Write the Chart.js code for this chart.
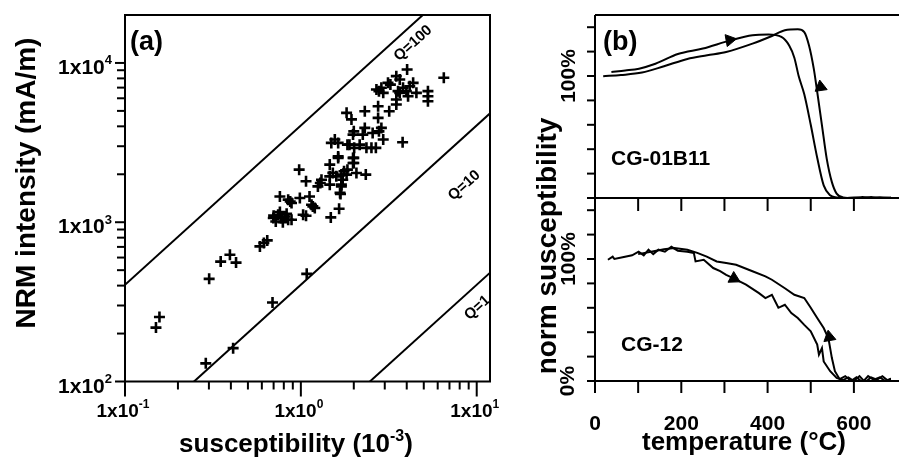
<!DOCTYPE html>
<html>
<head>
<meta charset="utf-8">
<script src="https://cdn.jsdelivr.net/npm/chart.js@4.4.1/dist/chart.umd.min.js"></script>
<style>
  html, body { margin: 0; padding: 0; background: #fff; }
  #wrap { position: relative; width: 899px; height: 460px; overflow: hidden; }
  #wrap canvas { position: absolute; left: 0; top: 0; }
</style>
</head>
<body>
<div id="wrap">
  <canvas id="chart-a" width="899" height="460"></canvas>
  <canvas id="chart-b1" width="899" height="460"></canvas>
  <canvas id="chart-b2" width="899" height="460"></canvas>
</div>
<script>
// ---- panel (a): NRM vs susceptibility ----
const susValues = [0.157,0.150,0.301,0.350,0.395,0.428,0.585,0.616,0.644,0.690,1.08,0.412,0.288,
  0.697,0.743,0.77,0.811,0.847,0.885,0.72,0.79,0.83,0.76,0.70,
  0.76,0.847,0.885,0.987,1.12,1.15,1.20,1.07,1.48,1.65,1.68,1.17,1.03,0.87,
  1.07,0.978,1.25,1.29,1.31,1.46,1.46,1.63,1.59,1.70,1.73,1.76,1.84,1.98,1.98,2.07,2.34,1.70,1.67,1.46,1.70,1.82,1.52,2.0,2.0,1.63,
  1.49,1.56,1.63,1.84,2.01,2.16,2.36,2.67,2.94,3.79,1.98,2.25,2.56,2.78,2.31,2.87,2.0,1.89,2.52,
  1.82,1.94,2.31,2.75,3.18,2.75,3.49,3.49,
  5.28,5.28,5.28,4.07,4.54,3.98,3.65,3.57,3.81,2.94,2.69,2.78,2.87,4.16,4.35,3.13,3.65,3.49,6.50,4.02,3.23];
const nrmValues = [254,218,441,566,625,558,705,740,769,313,474,162,130,
  1062,1114,1062,1087,1037,1037,1010,1000,1130,1160,1100,
  1452,1386,1321,1419,1452,1288,1228,1099,1072,1216,1503,1257,1114,1350,
  1807,2138,1679,1762,1849,1941,2300,2535,1941,1990,1849,2090,2138,2535,2355,2037,1990,1722,1528,1722,1680,1990,2040,2535,2355,2590,
  3148,3304,3148,3070,2930,3070,2930,2930,3304,3177,3550,3550,3630,3720,3910,3910,3720,3070,2930,
  4860,4420,4970,4520,4970,5350,5480,5890,
  5750,6180,6650,6180,6490,6650,6490,6650,6980,6490,6810,6650,6980,7140,7500,7500,7870,8260,8070,9100,7310];

// Koenigsberger ratio reference lines (end points)
const qLineSus = [0.1, 12];
const qLine100 = [405, 48600];
const qLine10 = [40.5, 4860];
const qLine1 = [4.05, 486];
const qLabels = ['Q=100', 'Q=10', 'Q=1'];
const qLabelSus = [4.35, 8.5, 10.1];
const qLabelNrm = [13300, 1700, 290];

const xMajorA = [0.1, 1, 10];
const xMajorExpA = ['-1', '0', '1'];
const xMinorA = [0.2,0.3,0.4,0.5,0.6,0.7,0.8,0.9,2,3,4,5,6,7,8,9];
const yMajorA = [100, 1000, 10000];
const yMajorExpA = ['2', '3', '4'];
const yMinorA = [200,300,400,500,600,700,800,900,2000,3000,4000,5000,6000,7000,8000,9000];

// ---- panel (b): thermomagnetic curves ----
const heatT1 = [38,70,102,140,192,250,312,365,402,432,450,462,472,485,500,515,530,545,560,580,600,620,640,660,686];
const heatS1 = [103.3,104.5,106,110,118,122.5,129,133.4,134,132,125,115,100,85,60,33,10.4,2.2,0.5,0,0.5,0,0.8,0,0.5];
const coolT1 = [19,60,109,160,214,260,304,365,410,440,470,485,496,507,515,526,537,549,560,575,600,620,640,660,686];
const coolS1 = [99.8,100.8,102.8,108,114,117,119.7,126.5,132.8,137.5,138.3,136,125,106,87,59.6,32.3,13,3.6,0.5,0,0.8,0,0.6,0];

const heatT2 = [30,41,45,64,86,101,113,124,135,147,162,177,192,214,229,233,252,274,290,304,320,350,380,395,410,425,440,455,470,485,500,515,519,526,530,545,560,575,587,600,613,626,640,653,666,680,686];
const heatS2 = [99.4,102,100,101.4,103,106,103,107.6,104,107.6,106,110,106.8,106,105,98,99.4,92.6,90,87,84.4,79,72,68,70.7,60,62.5,55.7,51.6,46,40.7,29.8,21.6,27,16,8,2.5,0.8,3,0,4,-1,3,1,4,0,2];
const coolT2 = [100,130,160,184,214,237,259,282,304,327,365,395,410,440,462,485,500,515,530,541,549,556,567,580,593,606,620,633,646,660,673,686];
const coolS2 = [104,106,108,109,107.6,105,102,98,96.7,95.3,90,85.8,83,76,70.7,68,60,51.6,43.4,35,18.8,8,1.5,4,0,3,-1,4,1,3,0,2];

// direction arrows sitting on the curves
const arrowT1 = [312, 523];
const arrowS1 = [129.5, 91];
const arrowDir1 = [80, -8];
const arrowT2 = [322, 543];
const arrowS2 = [84, 36];
const arrowDir2 = [118, -10];

const tempTicks = [0,100,200,300,400,500,600];
const tempLabels = [0, 200, 400, 600];
const pctTicks = [0,20,40,60,80,100,120,140];

const FONT = '"Liberation Sans", Arial, Helvetica, sans-serif';
const pts = (xs, ys) => xs.map((x, i) => ({ x, y: ys[i] }));

function segText(ctx, segs, cx, y, size) {
  // segs: [text, isSuperscript]
  const supSize = Math.round(size * 0.62);
  let w = 0;
  segs.forEach(([t, sup]) => {
    ctx.font = `bold ${sup ? supSize : size}px ${FONT}`;
    w += ctx.measureText(t).width;
  });
  let x = cx - w / 2;
  ctx.textAlign = 'left';
  ctx.textBaseline = 'alphabetic';
  segs.forEach(([t, sup]) => {
    ctx.font = `bold ${sup ? supSize : size}px ${FONT}`;
    ctx.fillText(t, x, sup ? y - size * 0.42 : y);
    x += ctx.measureText(t).width;
  });
  return w;
}

function powLabel(ctx, exp, x, y, size, align) {
  const supSize = Math.round(size * 0.62);
  ctx.font = `bold ${size}px ${FONT}`;
  const wb = ctx.measureText('1x10').width;
  ctx.font = `bold ${supSize}px ${FONT}`;
  const we = ctx.measureText(exp).width;
  const x0 = align === 'right' ? x - wb - we : x - (wb + we) / 2;
  ctx.textAlign = 'left';
  ctx.textBaseline = 'alphabetic';
  ctx.font = `bold ${size}px ${FONT}`;
  ctx.fillText('1x10', x0, y);
  ctx.font = `bold ${supSize}px ${FONT}`;
  ctx.fillText(exp, x0 + wb, y - size * 0.45);
}

function line(ctx, x1, y1, x2, y2) {
  ctx.beginPath();
  ctx.moveTo(x1, y1);
  ctx.lineTo(x2, y2);
  ctx.stroke();
}

const hiddenScale = (extra) => Object.assign({ display: false }, extra);

// ---------------- chart (a) ----------------
const decorA = {
  id: 'decorA',
  afterDraw(chart) {
    const { ctx, chartArea: a, scales: { x, y } } = chart;
    ctx.save();
    ctx.strokeStyle = '#000';
    ctx.fillStyle = '#000';
    ctx.lineWidth = 2;
    ctx.strokeRect(a.left, a.top, a.right - a.left, a.bottom - a.top);
    xMajorA.forEach(v => { const p = x.getPixelForValue(v); line(ctx, p, a.bottom, p, a.bottom + 15); });
    xMinorA.forEach(v => { const p = x.getPixelForValue(v); line(ctx, p, a.bottom, p, a.bottom + 8); });
    yMajorA.forEach(v => { const p = y.getPixelForValue(v); line(ctx, a.left, p, a.left - 10, p); });
    yMinorA.forEach(v => { const p = y.getPixelForValue(v); line(ctx, a.left, p, a.left - 8, p); });

    xMajorA.forEach((v, i) => powLabel(ctx, xMajorExpA[i], x.getPixelForValue(v) - 2, 417, 19, 'center'));
    yMajorA.forEach((v, i) => powLabel(ctx, yMajorExpA[i], a.left - 13, y.getPixelForValue(v) + 11, 21, 'right'));

    segText(ctx, [['susceptibility (10', false], ['-3', true], [')', false]], 296, 452, 26);
    ctx.save();
    ctx.translate(35, 183);
    ctx.rotate(-Math.PI / 2);
    segText(ctx, [['NRM intensity (mA/m)', false]], 0, 0, 28);
    ctx.restore();

    ctx.font = `bold 27px ${FONT}`;
    ctx.textAlign = 'left';
    ctx.textBaseline = 'alphabetic';
    ctx.fillText('(a)', 130, 50);

    // Q labels along the lines
    const ang = Math.atan2(y.getPixelForValue(1000) - y.getPixelForValue(10000),
                           x.getPixelForValue(1) - x.getPixelForValue(0.1));
    qLabels.forEach((t, i) => {
      ctx.save();
      ctx.translate(x.getPixelForValue(qLabelSus[i]), y.getPixelForValue(qLabelNrm[i]));
      ctx.rotate(-ang);
      ctx.font = `bold 15px ${FONT}`;
      ctx.textAlign = 'center';
      ctx.textBaseline = 'middle';
      ctx.fillText(t, 0, 0);
      ctx.restore();
    });
    ctx.restore();
  }
};

const qStyle = { type: 'line', showLine: true, borderColor: '#000', borderWidth: 2, pointRadius: 0, fill: false };

new Chart(document.getElementById('chart-a'), {
  type: 'scatter',
  data: {
    datasets: [
      { label: 'samples', data: pts(susValues, nrmValues), pointStyle: 'cross', pointRadius: 5.5,
        borderColor: '#000', borderWidth: 2.6, backgroundColor: '#000' },
      Object.assign({ label: 'Q=100', data: pts(qLineSus, qLine100) }, qStyle),
      Object.assign({ label: 'Q=10', data: pts(qLineSus, qLine10) }, qStyle),
      Object.assign({ label: 'Q=1', data: pts(qLineSus, qLine1) }, qStyle)
    ]
  },
  options: {
    responsive: false,
    devicePixelRatio: 1,
    animation: false,
    layout: { padding: { left: 125, right: 409, top: 15, bottom: 78.5 } },
    scales: {
      x: hiddenScale({ type: 'logarithmic', min: 0.1, max: 11.9 }),
      y: hiddenScale({ type: 'logarithmic', min: 100, max: 20000 })
    },
    plugins: { legend: { display: false }, tooltip: { enabled: false } }
  },
  plugins: [decorA]
});

// ---------------- chart (b) ----------------
function pctAxis(ctx, a, y) {
  line(ctx, a.left, a.top, a.left, a.bottom);
  pctTicks.forEach(v => { const p = y.getPixelForValue(v); line(ctx, a.left, p, a.left - 8, p); });
}

function rotLabel(ctx, text, cx, cy, size) {
  ctx.save();
  ctx.translate(cx, cy);
  ctx.rotate(-Math.PI / 2);
  ctx.font = `bold ${size}px ${FONT}`;
  ctx.textAlign = 'center';
  ctx.textBaseline = 'middle';
  ctx.fillText(text, 0, 0);
  ctx.restore();
}

const decorB1 = {
  id: 'decorB1',
  afterDraw(chart) {
    const { ctx, chartArea: a, scales: { x, y } } = chart;
    ctx.save();
    ctx.strokeStyle = '#000';
    ctx.fillStyle = '#000';
    ctx.lineWidth = 2;
    line(ctx, a.left, a.top, 899, a.top);
    line(ctx, a.left, a.bottom, 899, a.bottom);
    pctAxis(ctx, a, y);
    tempTicks.forEach(v => { const p = x.getPixelForValue(v); line(ctx, p, a.bottom, p, a.bottom + 13); });
    rotLabel(ctx, '100%', 569, y.getPixelForValue(100), 21);
    ctx.font = `bold 27px ${FONT}`;
    ctx.textAlign = 'left';
    ctx.textBaseline = 'alphabetic';
    ctx.fillText('(b)', 603, 50);
    ctx.font = `bold 21px ${FONT}`;
    ctx.fillText('CG-01B11', 611, 165);
    ctx.restore();
  }
};

const decorB2 = {
  id: 'decorB2',
  afterDraw(chart) {
    const { ctx, chartArea: a, scales: { x, y } } = chart;
    ctx.save();
    ctx.strokeStyle = '#000';
    ctx.fillStyle = '#000';
    ctx.lineWidth = 2;
    line(ctx, a.left, a.bottom, 899, a.bottom);
    pctAxis(ctx, a, y);
    tempTicks.forEach(v => { const p = x.getPixelForValue(v); line(ctx, p, a.bottom, p, a.bottom + 12); });
    rotLabel(ctx, '100%', 569, y.getPixelForValue(100), 21);
    rotLabel(ctx, '0%', 568, y.getPixelForValue(0), 21);
    ctx.font = `bold 21px ${FONT}`;
    ctx.textAlign = 'center';
    ctx.textBaseline = 'alphabetic';
    tempLabels.forEach(v => ctx.fillText(String(v), x.getPixelForValue(v), 430));
    segText(ctx, [['temperature (°C)', false]], 744, 450, 26);
    rotLabel(ctx, 'norm susceptibility', 548, 246, 28);
    ctx.font = `bold 21px ${FONT}`;
    ctx.textAlign = 'left';
    ctx.fillText('CG-12', 621, 351);
    ctx.restore();
  }
};

const curve = (label, data, smooth) => ({
  label, data, type: 'line', showLine: true, borderColor: '#000', borderWidth: 2,
  pointRadius: 0, fill: false, tension: smooth ? 0.4 : 0, cubicInterpolationMode: smooth ? 'monotone' : 'default'
});
const arrows = (xs, ys, dirs) => ({
  label: 'direction', data: pts(xs, ys), type: 'scatter', pointStyle: 'triangle',
  pointRadius: 7, rotation: dirs, backgroundColor: '#000', borderColor: '#000', borderWidth: 1
});

function thermoChart(id, heat, cool, arr, top, bottom, decor, smooth) {
  return new Chart(document.getElementById(id), {
    type: 'line',
    data: { datasets: [curve('heating', heat, smooth), curve('cooling', cool, smooth), arr] },
    options: {
      responsive: false,
      devicePixelRatio: 1,
      animation: false,
      layout: { padding: { left: 595, right: 0, top, bottom } },
      scales: {
        x: hiddenScale({ type: 'linear', min: 0, max: 686 }),
        y: hiddenScale({ type: 'linear', min: 0, max: 150 })
      },
      plugins: { legend: { display: false }, tooltip: { enabled: false } }
    },
    plugins: [decor]
  });
}

thermoChart('chart-b1', pts(heatT1, heatS1), pts(coolT1, coolS1), arrows(arrowT1, arrowS1, arrowDir1), 15, 262, decorB1, true);
thermoChart('chart-b2', pts(heatT2, heatS2), pts(coolT2, coolS2), arrows(arrowT2, arrowS2, arrowDir2), 198, 79, decorB2, false);
</script>
</body>
</html>
